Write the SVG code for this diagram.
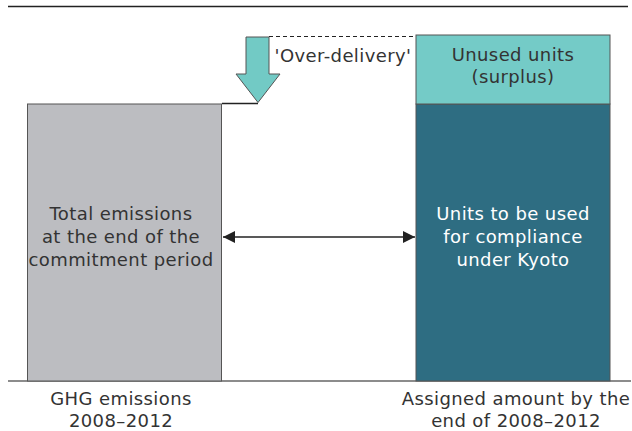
<svg xmlns="http://www.w3.org/2000/svg" width="632" height="431" viewBox="0 0 632 431">
  <style>
    .t { font-family: "DejaVu Sans", Verdana, sans-serif; font-size: 18px; letter-spacing: 0.4px; fill: #333333; text-anchor: middle; }
    .w { fill: #ffffff; }
    .box { stroke: #555555; stroke-width: 1; }
    .ln { stroke: #222222; stroke-width: 1.5; fill: none; }
  </style>
  <defs>
    <marker id="ah" viewBox="0 0 12 12" refX="12" refY="6" markerWidth="12" markerHeight="12" markerUnits="userSpaceOnUse" orient="auto-start-reverse">
      <path d="M0,0 L12,6 L0,12 Z" fill="#222222"/>
    </marker>
  </defs>

  <rect width="632" height="431" fill="#ffffff"/>

  <!-- frame rules -->
  <line x1="8" y1="6.5" x2="628" y2="6.5" stroke="#222222" stroke-width="1.5"/>
  <line x1="8" y1="381" x2="631" y2="381" stroke="#666666" stroke-width="1.5"/>

  <g id="emissions">
    <rect class="box" x="27.5" y="104" width="194" height="277" fill="#bcbdc1"/>
    <text class="t" x="121" y="220">Total emissions</text>
    <text class="t" x="121" y="243">at the end of the</text>
    <text class="t" x="121" y="266">commitment period</text>
  </g>

  <g id="compliance-units">
    <rect class="box" x="416" y="104" width="194" height="277" fill="#2e6d82"/>
    <text class="t w" x="513" y="220">Units to be used</text>
    <text class="t w" x="513" y="243">for compliance</text>
    <text class="t w" x="513" y="266">under Kyoto</text>
  </g>

  <g id="surplus">
    <rect class="box" x="416" y="35" width="194" height="69" fill="#74cbc7"/>
    <text class="t" x="513" y="61">Unused units</text>
    <text class="t" x="513" y="83">(surplus)</text>
  </g>

  <g id="over-delivery">
    <path d="M246,37 L269,37 L269,74 L280,74 L258,102.5 L236,74 L246,74 Z" fill="#72cac5" stroke="#555555" stroke-width="1"/>
    <text class="t" x="343" y="62">'Over-delivery'</text>
  </g>

  <g id="connectors">
    <line class="ln" x1="222" y1="103.5" x2="258" y2="103.5"/>
    <line x1="269" y1="36.5" x2="416" y2="36.5" stroke="#222222" stroke-width="1.2" stroke-dasharray="4,3"/>
    <line class="ln" x1="223" y1="237" x2="415" y2="237" marker-start="url(#ah)" marker-end="url(#ah)"/>
  </g>

  <g id="axis-labels">
    <text class="t" x="121" y="405">GHG emissions</text>
    <text class="t" x="121" y="427">2008–2012</text>
    <text class="t" x="516" y="405">Assigned amount by the</text>
    <text class="t" x="516" y="427">end of 2008–2012</text>
  </g>
</svg>
